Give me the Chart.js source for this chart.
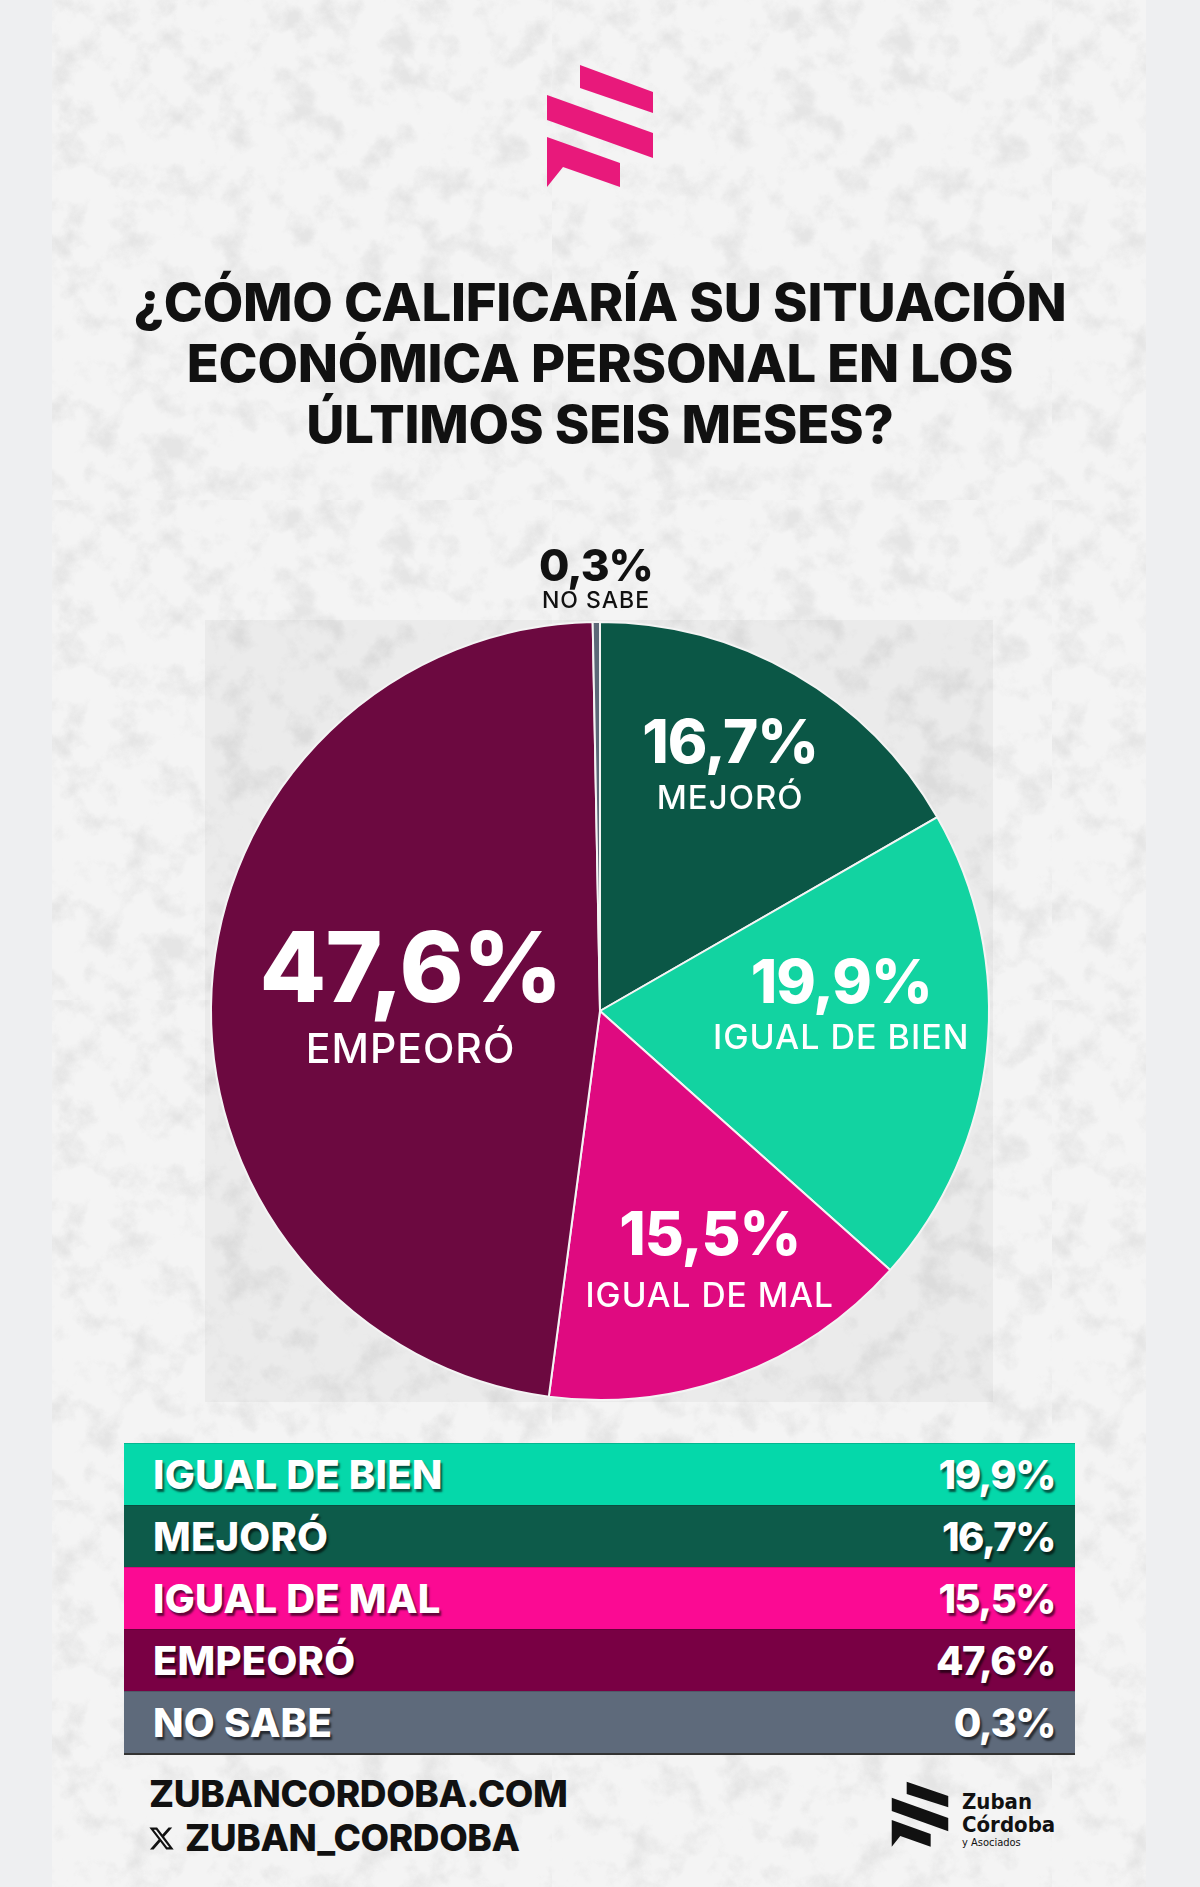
<!DOCTYPE html>
<html lang="es">
<head>
  <meta charset="UTF-8">
  <title>Situación económica personal</title>
  <script src="https://cdn.jsdelivr.net/npm/chart.js"></script>
  <style>
    body {
      margin: 0;
      width: 1200px;
      height: 1887px;
      background: #eeeff1;
      position: relative;
      overflow: hidden;
      font-family: Inter, "Noto Sans", sans-serif;
    }
    /* panel central con textura gris */
    .panel {
      position: absolute;
      left: 52px; top: 0;
      width: 1094px; height: 1887px;
      background-color: #f4f4f4;
      background-image: url("data:image/svg+xml;utf8,<svg xmlns='http://www.w3.org/2000/svg' width='500' height='500'><filter id='n'><feTurbulence type='fractalNoise' baseFrequency='0.03' numOctaves='5' seed='7'/><feColorMatrix values='0 0 0 0 0.78  0 0 0 0 0.78  0 0 0 0 0.78  3.2 0 0 0 -1.55'/></filter><rect width='100%' height='100%' filter='url(%23n)'/></svg>");
    }
    .pieback {
      position: absolute;
      left: 205px; top: 620px;
      width: 788px; height: 782px;
      background: rgba(0,0,0,0.035);
    }
    .logo { position: absolute; left: 540px; top: 60px; }
    h1 {
      position: absolute;
      left: 0; top: 272px;
      width: 1200px;
      margin: 0;
      text-align: center;
      font-size: 52.5px;
      line-height: 61px;
      font-weight: 800;
      color: #111;
      letter-spacing: -0.2px;
    }
    #chartBox {
      position: absolute;
      left: 0; top: 520px;
      width: 1200px; height: 900px;
    }
    #tabla {
      position: absolute;
      left: 124px; top: 1443px;
      width: 951px;
      border-bottom: 2px solid #333;
    }
    .fila {
      height: 62px;
      display: flex;
      justify-content: space-between;
      align-items: center;
      padding: 0 20px 0 29px;
      box-sizing: border-box;
      color: #fff;
      font-size: 40px;
      font-weight: 800;
      letter-spacing: 0.2px;
      text-shadow: 2px 3px 2px rgba(0,0,0,0.6);
      border-top: 1px solid rgba(0,0,0,0.15);
    }
    .fila span + span { letter-spacing: -1.5px; }
    .pie1 {
      position: absolute;
      left: 149px; top: 1772px;
      font-size: 37px; line-height: 44px;
      font-weight: 800; color: #111;
      letter-spacing: -0.4px;
    }
    .pie2 {
      position: absolute;
      left: 148px; top: 1816px;
      font-size: 37px; line-height: 44px;
      font-weight: 800; color: #111;
      letter-spacing: -0.4px;
      display: flex; align-items: center;
    }
    .pie2 svg { margin-right: 10px; }
    .marca { position: absolute; left: 888px; top: 1778px; }
    .marcaTxt {
      position: absolute; left: 962px; top: 1790px;
      font-family: "DejaVu Sans Condensed", "DejaVu Sans", sans-serif;
      font-weight: bold; color: #111;
      font-size: 22px; line-height: 23px;
    }
    .marcaTxt small { display: block; font-size: 11px; line-height: 13px; font-weight: normal; }
  </style>
</head>
<body>
  <div class="panel"></div>
  <div class="pieback"></div>

  <!-- logo rosa -->
  <svg class="logo" width="120" height="135" viewBox="540 60 120 135">
    <g fill="#e8197b">
      <polygon points="580,65 653,92 653,113 580,88"/>
      <polygon points="547,95 653,133 653,158 547,120"/>
      <polygon points="547,137 620,163 620,187 563,167 547,187"/>
    </g>
  </svg>

  <h1>¿CÓMO CALIFICARÍA SU SITUACIÓN<br>ECONÓMICA PERSONAL EN LOS<br>ÚLTIMOS SEIS MESES?</h1>

  <div id="chartBox"><canvas id="torta"></canvas></div>

  <div id="tabla"></div>

  <div class="pie1">ZUBANCORDOBA.COM</div>
  <div class="pie2">
    <svg width="27" height="27" viewBox="0 0 24 24"><path fill="#111" d="M18.244 2.25h3.308l-7.227 8.26 8.502 11.24H16.17l-5.214-6.817L4.99 21.75H1.68l7.73-8.835L1.254 2.25H8.08l4.713 6.231zm-1.161 17.52h1.833L7.084 4.126H5.117z"/></svg>
    ZUBAN_CORDOBA
  </div>

  <svg class="marca" width="64" height="74" viewBox="540 60 120 135">
    <g fill="#111">
      <polygon points="575,65 653,92 653,113 575,88"/>
      <polygon points="547,95 653,133 653,158 547,120"/>
      <polygon points="547,137 620,163 620,187 563,167 547,187"/>
    </g>
  </svg>
  <div class="marcaTxt">Zuban<br>Córdoba<small>y Asociados</small></div>

  <script>
    // datos de la encuesta (en el orden de la torta, sentido horario desde arriba)
    const categorias = ['MEJORÓ', 'IGUAL DE BIEN', 'IGUAL DE MAL', 'EMPEORÓ', 'NO SABE'];
    const valores = [16.7, 19.9, 15.5, 47.6, 0.3];
    // orden de las filas de la tabla inferior
    const ordenTabla = [1, 0, 2, 3, 4];

    // estilos
    const coloresTorta = ['#0b5746', '#12d3a1', '#df0a80', '#6c0940', '#5c6878'];
    const coloresTabla = ['#0d5b4a', '#05d8aa', '#fb0a93', '#790044', '#5e6a7b'];
    // [fracción del radio, desplazamiento angular en grados]
    const posEtiqueta = [[0.70, -1.5], [0.62, -5.7], [0.715, -2.9], [0.487, -3.5], [1.097, 0]];
    const tamNumero = [60, 60, 60, 97, 44];
    const tamNombre = [33, 34, 33.5, 41, 23];
    // separación vertical entre número y nombre (mitad)
    const sepEtiqueta = [27, 27, 30, 39, 17];
    const colorTexto = ['#fff', '#fff', '#fff', '#fff', '#111'];

    const fmt = v => v.toFixed(1).replace('.', ',') + '%';

    // tabla
    const tabla = document.getElementById('tabla');
    ordenTabla.forEach(i => {
      const fila = document.createElement('div');
      fila.className = 'fila';
      fila.style.background = coloresTabla[i];
      fila.innerHTML = '<span>' + categorias[i] + '</span><span>' + fmt(valores[i]) + '</span>';
      tabla.appendChild(fila);
    });

    // etiquetas dentro de cada porción
    const etiquetas = {
      id: 'etiquetas',
      afterDatasetsDraw(chart) {
        const ctx = chart.ctx;
        chart.getDatasetMeta(0).data.forEach((arc, i) => {
          const p = arc.getProps(['x', 'y', 'startAngle', 'endAngle', 'outerRadius'], true);
          const ang = (p.startAngle + p.endAngle) / 2 + posEtiqueta[i][1] * Math.PI / 180;
          const r = p.outerRadius * posEtiqueta[i][0];
          const x = p.x + Math.cos(ang) * r;
          const y = p.y + Math.sin(ang) * r;
          const d = sepEtiqueta[i];
          ctx.save();
          ctx.textAlign = 'center';
          ctx.textBaseline = 'middle';
          ctx.fillStyle = colorTexto[i];
          ctx.font = '800 ' + tamNumero[i] + 'px Inter, "Noto Sans", sans-serif';
          ctx.letterSpacing = '-1px';
          ctx.fillText(fmt(valores[i]), x, y - d);
          ctx.font = '500 ' + tamNombre[i] + 'px Inter, "Noto Sans", sans-serif';
          ctx.letterSpacing = '1px';
          ctx.fillText(categorias[i], x, y + d);
          ctx.restore();
        });
      }
    };

    new Chart(document.getElementById('torta'), {
      type: 'pie',
      data: {
        labels: categorias,
        datasets: [{
          data: valores,
          backgroundColor: coloresTorta,
          borderColor: '#f4f4f4',
          borderWidth: 2
        }]
      },
      options: {
        responsive: true,
        maintainAspectRatio: false,
        animation: false,
        layout: { padding: { left: 210, right: 210, top: 101, bottom: 19 } },
        plugins: {
          legend: { display: false },
          tooltip: { enabled: false }
        }
      },
      plugins: [etiquetas]
    });
  </script>
</body>
</html>
